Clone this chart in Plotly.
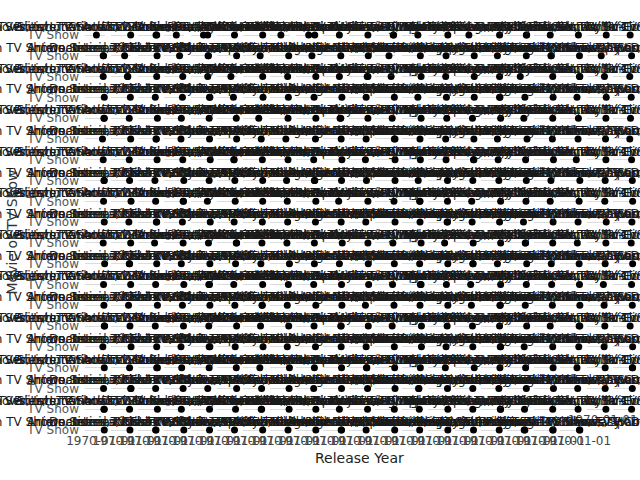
import plotly.graph_objects as go
from plotly.subplots import make_subplots

# ---------------- data ----------------
genres = [
    "International TV Shows, TV Action & Adventure, TV Dramas",
    "Crime TV Shows, International TV Shows, TV Action & Adventure",
    "Anime Series, International TV Shows, TV Action & Adventure",
    "British TV Shows, Docuseries, International TV Shows",
    "Docuseries, Reality TV, TV Shows",
    "Crime TV Shows, Docuseries, International TV Shows",
    "Kids' TV, TV Comedies, TV Dramas",
    "Comedies, TV Comedies, International TV Shows",
    "Romantic TV Shows, TV Comedies, TV Dramas",
    "Crime TV Shows, TV Dramas, TV Mysteries",
    "International TV Shows, Romantic TV Shows, TV Comedies",
    "Crime TV Shows, Spanish-Language TV Shows, TV Dramas",
    "Docuseries, International TV Shows, Reality TV",
    "Reality TV, Romantic TV Shows, TV Shows",
    "TV Dramas, TV Mysteries, TV Sci-Fi & Fantasy",
    "International TV Shows, Korean TV Shows, Romantic TV Shows",
    "TV Horror, TV Mysteries, TV Thrillers",
    "Stand-Up Comedy & Talk Shows, TV Comedies",
    "Kids' TV, TV Comedies, TV Sci-Fi & Fantasy",
    "Spanish-Language TV Shows, TV Sci-Fi & Fantasy, Teen TV Shows",
    "Classic & Cult TV, TV Comedies, TV Dramas",
    "Anime Series, Kids' TV",
    "British TV Shows, International TV Shows, Reality TV",
    "Docuseries, Science & Nature TV",
    "International TV Shows, TV Dramas, TV Thrillers",
    "Kids' TV, Korean TV Shows",
    "Reality TV, TV Comedies",
    "Teen TV Shows, TV Comedies, TV Dramas",
    "Crime TV Shows, TV Action & Adventure, TV Thrillers",
    "British TV Shows, Crime TV Shows, Docuseries",
    "International TV Shows, Spanish-Language TV Shows, Stand-Up Comedy & Talk Shows",
    "Anime Series, International TV Shows, Romantic TV Shows",
    "TV Action & Adventure, TV Comedies, TV Sci-Fi & Fantasy",
    "Docuseries, Spanish-Language TV Shows",
    "International TV Shows, Reality TV, Romantic TV Shows",
    "Kids' TV, TV Action & Adventure, TV Sci-Fi & Fantasy",
    "Romantic TV Shows, Spanish-Language TV Shows, TV Dramas",
    "British TV Shows, International TV Shows, TV Comedies",
    "TV Comedies, TV Dramas, TV Horror",
    "Crime TV Shows, International TV Shows, Spanish-Language TV Shows",
    "Docuseries, International TV Shows, Science & Nature TV",
    "International TV Shows, Stand-Up Comedy & Talk Shows, TV Comedies",
]

years_r01 = [1997, 2019, [2016, 2018], 1999, [2001, 2013], 2014, 2019, 1996, [2000, 2017], 2012, 2018, [2015, 2016], 2010, 2020, 2005, 2017, [2018, 2019], 2011, 2016, 2020, 2013]
years_r02 = [[2016, 2017], 2002, 2019, 2008, [2014, 2015], 2020, 2012, 2018, 2009, 2016, 2019, 2003, 2017, 2015, 2020, 2011, 2018, [2013, 2014], 2019, 2006, 2017]
years_r03 = [2016, [2010, 2011], 2018, 2017, 2013, 2004, 2019, 2015, 2020, 2012, [2016, 2018], 2009, 2019, 2014, 2020, 2017, 2001, 2018, [2019, 2020], 2015, 2012]
years_r04 = [2019, 2018, 2014, 2016, [2018, 2019], 2011, 2020, 2017, 2015, 2019, 2013, 2018, 2010, 2016, 2020, [2017, 2018], 2014, 2019, 2012, 2020, 2016]
years_r05 = [[2018, 2019], 2015, 2020, 2013, 2017, 2019, 2008, 2016, 2020, [2014, 2016], 2018, 2012, 2019, 2017, 2015, 2020, 2011, 2018, 2016, 2019, 2014]
years_r06 = [2014, 2019, [2016, 2017], 2012, 2018, 2020, 2015, 2010, 2019, 2017, 2013, [2018, 2020], 2016, 2014, 2019, 2011, 2020, 2017, 2015, 2018, 2012]
years_r07 = [2016, 2015, 2019, 2017, 2020, [2012, 2013], 2018, 2016, 2014, 2019, 2011, 2020, 2017, 2015, [2018, 2019], 2013, 2016, 2020, 2010, 2019, 2017]
years_r08 = [[2018, 2019], 2016, 2013, 2020, 2017, 2015, 2019, 2012, [2016, 2017], 2018, 2014, 2020, 2011, 2019, 2016, 2015, 2018, 2013, 2020, 2017, 2019]
years_r09 = [2017, 2020, 2015, [2018, 2019], 2012, 2016, 2019, 2014, 2020, 2010, 2018, 2017, [2015, 2016], 2019, 2013, 2020, 2017, 2011, 2018, 2016, 2020]
years_r10 = [2019, 2014, [2017, 2018], 2016, 2020, 2013, 2018, 2015, 2019, 2017, 2012, 2020, 2016, [2018, 2019], 2014, 2017, 2010, 2019, 2015, 2020, 2018]
years_r11 = [2016, 2019, 2012, 2018, 2015, [2019, 2020], 2017, 2013, 2016, 2020, 2018, 2014, 2019, 2011, 2017, 2020, [2015, 2016], 2018, 2013, 2019, 2016]
years_r12 = [2020, [2015, 2016], 2018, 2013, 2019, 2017, 2014, 2020, 2016, 2012, 2019, 2018, 2015, 2020, [2016, 2017], 2011, 2019, 2014, 2018, 2017, 2020]
years_r13 = [2017, 2019, 2015, 2020, [2016, 2018], 2012, 2019, 2017, 2014, 2018, 2020, 2013, [2017, 2019], 2016, 2010, 2020, 2018, 2015, 2019, 2012, 2017]
years_r14 = [2018, 2013, 2020, 2016, 2019, 2015, [2017, 2018], 2014, 2020, 2019, 2011, 2017, 2016, 2020, 2012, [2018, 2019], 2015, 2017, 2020, 2014, 2019]
years_r15 = [[2019, 2020], 2017, 2014, 2019, 2016, 2020, 2013, 2018, 2015, [2016, 2017], 2019, 2012, 2020, 2018, 2015, 2017, 2019, 2011, [2018, 2020], 2016, 2013]
years_r16 = [2015, 2020, 2018, 2012, [2017, 2019], 2016, 2020, 2014, 2019, 2017, 2013, 2018, 2020, 2015, 2016, [2019, 2020], 2012, 2018, 2017, 2014, 2020]
years_r17 = [2019, 2016, [2018, 2020], 2014, 2017, 2019, 2011, 2020, 2016, 2018, [2014, 2015], 2019, 2017, 2013, 2020, 2018, 2016, 2019, 2012, 2017, [2019, 2020]]
years_r18 = [2017, [2019, 2020], 2015, 2018, 2013, 2020, 2016, 2019, 2014, 2018, 2017, 2020, [2012, 2013], 2019, 2016, 2015, 2018, 2020, 2014, 2017, 2019]
years_r19 = [[2018, 2019], 2016, 2020, 2013, 2018, 2017, [2015, 2016], 2019, 2020, 2012, 2017, 2018, 2014, 2020, 2016, [2019, 2020], 2013, 2018, 2015, 2019, 2017]
years_r20 = [2019, 2017, [2015, 2016], 2020, 2018, 2014, 2019, 2016, 2020, [2017, 2018], 2013, 2019, 2015, 2020, 2018, 2016, [2012, 2014], [2018, 2019], [2019, 2020]]

tick_values = [2010]
tick_labels = ["1970-01-01"]
x_range = [1965, 2021]
category = "TV Show"

rows_years = [years_r01, years_r02, years_r03, years_r04, years_r05, years_r06,
              years_r07, years_r08, years_r09, years_r10, years_r11, years_r12,
              years_r13, years_r14, years_r15, years_r16, years_r17, years_r18,
              years_r19, years_r20]

# ---------------- figure ----------------
N_ROWS, N_COLS = 20, 21
fig = make_subplots(rows=N_ROWS, cols=N_COLS,
                    horizontal_spacing=0.0117, vertical_spacing=0.0421)

FONT = "DejaVu Sans"
annotations = []
k = 0
for r, row_years in enumerate(rows_years, start=1):
    for c, yrs in enumerate(row_years, start=1):
        xs = yrs if isinstance(yrs, list) else [yrs]
        fig.add_trace(go.Scatter(x=xs, y=[category] * len(xs), mode="markers",
                                 marker=dict(color="black", size=7),
                                 cliponaxis=False, showlegend=False,
                                 hoverinfo="skip"), row=r, col=c)
        sp = fig.get_subplot(r, c)
        xd = sp.xaxis.domain
        yd = sp.yaxis.domain
        annotations.append(dict(text=genres[k % len(genres)], x=(xd[0] + xd[1]) / 2,
                                y=yd[1], xref="paper", yref="paper",
                                xanchor="center", yanchor="bottom", yshift=-3,
                                showarrow=False,
                                font=dict(size=12, color="#1a1a1a", family=FONT)))
        k += 1

fig.update_xaxes(range=x_range, tickvals=tick_values, ticktext=tick_labels,
                 showgrid=False, zeroline=False, showticklabels=False,
                 ticks="", showline=False, automargin=False,
                 tickfont=dict(size=12, color="#444"))
fig.update_yaxes(type="category", categoryarray=[category], range=[-0.5, 0.5],
                 showgrid=True, gridcolor="#dcdcdc", gridwidth=1, zeroline=False,
                 showticklabels=False, ticks="", ticklabelstandoff=5, automargin=False,
                 tickfont=dict(size=12, color="#555"))
fig.update_yaxes(showticklabels=True, col=1)
fig.update_xaxes(showticklabels=True, row=N_ROWS)
# empty facet slots in the last row
for c in (20, 21):
    fig.update_xaxes(visible=False, row=N_ROWS, col=c)
    fig.update_yaxes(visible=False, row=N_ROWS, col=c)
    fig.update_xaxes(showticklabels=True, row=N_ROWS - 1, col=c)

annotations.append(dict(text="Release Year", x=0.5, y=0, xref="paper", yref="paper",
                        xanchor="center", yanchor="middle", yshift=-26, showarrow=False,
                        font=dict(size=14, color="#222", family=FONT)))
annotations.append(dict(text="Movie or TV Show", x=0, y=0.5, xref="paper", yref="paper",
                        xanchor="center", yanchor="middle", xshift=-74, textangle=-90,
                        showarrow=False, font=dict(size=14, color="#333", family=FONT)))

fig.update_layout(width=640, height=480, template="plotly_white",
                  paper_bgcolor="white", plot_bgcolor="white",
                  margin=dict(l=85, r=7, t=33, b=48, autoexpand=False),
                  font=dict(family=FONT, size=12, color="#444"),
                  annotations=annotations, showlegend=False)

fig.write_html("out.html")
